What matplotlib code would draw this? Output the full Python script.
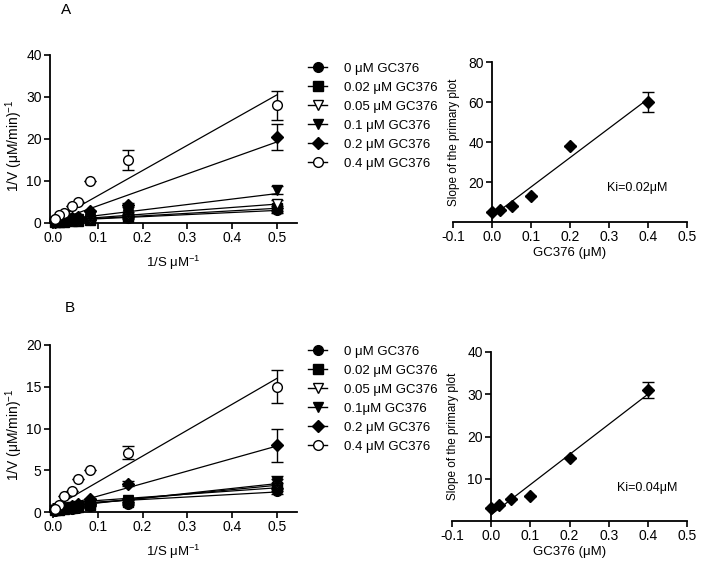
import numpy as np
import matplotlib
matplotlib.use('Agg')
import matplotlib.pyplot as plt

plt.rcParams['font.family'] = ['Liberation Sans', 'DejaVu Sans']
plt.rcParams['mathtext.default'] = 'regular'

# primary (Lineweaver-Burk) data
inv_s = [0.5, 0.1667, 0.0833, 0.0556, 0.0417, 0.025, 0.0125, 0.005]
conc = [0, 0.02, 0.05, 0.1, 0.2, 0.4]
labels_a = ['0 μM GC376', '0.02 μM GC376', '0.05 μM GC376', '0.1 μM GC376', '0.2 μM GC376', '0.4 μM GC376']
labels_b = ['0 μM GC376', '0.02 μM GC376', '0.05 μM GC376', '0.1μM GC376', '0.2 μM GC376', '0.4 μM GC376']

a_0 = [3.0, 1.2, 0.7, 0.5, 0.4, 0.3, 0.2, 0.15]
a_002 = [3.5, 1.4, 0.8, 0.55, 0.45, 0.35, 0.25, 0.2]
a_005 = [4.5, 1.8, 1.0, 0.7, 0.55, 0.4, 0.3, 0.2]
a_01 = [7.8, 2.3, 1.5, 0.9, 0.7, 0.5, 0.35, 0.25]
a_02 = [20.5, 4.3, 2.8, 1.5, 1.2, 0.8, 0.5, 0.3]
a_04 = [28, 15, 10, 5, 4, 2.5, 1.8, 1.0]
a_err_05 = [0.5, 0.6, 1.0, 1.0, 3.0, 3.5]
a_err_017 = [0.2, 0.2, 0.3, 0.4, 0.5, 2.3]
a_slope = [5, 6, 8, 13, 38, 60]
a_icpt = [0.5, 0.5, 0.5, 0.5, 0.3, 0.5]
a_slope_err = [0, 0, 0, 0, 0, 5]

b_0 = [2.5, 1.0, 0.7, 0.5, 0.4, 0.3, 0.2, 0.15]
b_002 = [3.0, 1.2, 0.8, 0.55, 0.45, 0.35, 0.25, 0.2]
b_005 = [3.4, 1.3, 0.9, 0.6, 0.5, 0.4, 0.3, 0.2]
b_01 = [3.6, 1.4, 1.0, 0.7, 0.55, 0.4, 0.3, 0.25]
b_02 = [8, 3.4, 1.6, 1.0, 0.7, 0.5, 0.35, 0.2]
b_04 = [15, 7.1, 5, 4, 2.5, 1.9, 0.8, 0.4]
b_err_05 = [0.4, 0.5, 0.6, 0.7, 2.0, 2.0]
b_err_017 = [0.2, 0.2, 0.2, 0.2, 0.3, 0.8]
b_slope = [3, 3.8, 5.2, 5.8, 15, 31]
b_icpt = [0.9, 1.0, 0.6, 0.5, 0.4, 0.5]
b_slope_err = [0, 0, 0, 0, 0, 2]

markers = [('o', 'k'), ('s', 'k'), ('v', 'w'), ('v', 'k'), ('D', 'k'), ('o', 'w')]
W, H = 711, 565


def px_axes(fig, l, t, r, b):
    return fig.add_axes([l / W, 1 - b / H, (r - l) / W, (b - t) / H])


def style(ax):
    for s in ['top', 'right']:
        ax.spines[s].set_visible(False)
    ax.spines['left'].set_linewidth(1.3)
    ax.spines['bottom'].set_linewidth(1.3)
    ax.tick_params(direction='out', length=4, width=1.2, labelsize=10, pad=2)


def primary(ax, series, errs05, errs017, slopes, icpts, ymax, ystep):
    xs = np.array([0, 0.5])
    for k in range(6):
        ax.plot(xs, icpts[k] + slopes[k] * xs, color='k', lw=0.9, zorder=2)
    for k in range(6):
        m, fc = markers[k]
        yerr = np.zeros(len(inv_s))
        yerr[0] = errs05[k]
        yerr[1] = errs017[k]
        ms = 6 if m == 'D' else 7
        ax.errorbar(inv_s, series[k], yerr=yerr, fmt=m, mfc=fc, mec='k', color='k',
                    ms=ms, mew=1, elinewidth=1, capsize=4, capthick=1,
                    clip_on=False, zorder=3, label=None)
    ax.set_xlim(-0.007, 0.545)
    ax.set_ylim(0, ymax)
    ax.set_xticks([0, 0.1, 0.2, 0.3, 0.4, 0.5])
    ax.set_xticklabels(['0.0', '0.1', '0.2', '0.3', '0.4', '0.5'])
    ax.set_yticks(np.arange(0, ymax + 1, ystep))
    ax.set_xlabel('1/S μM$^{-1}$', fontsize=9.5, labelpad=6)
    ax.set_ylabel('1/V (μM/min)$^{-1}$', fontsize=10)
    ax.yaxis.set_label_coords(-0.1, 0.46)
    style(ax)


def secondary(ax, slopes, errs, ymax, ystep, text, tx, ty):
    fit = np.polyfit(conc, slopes, 1)
    xs = np.array([0, 0.4])
    ax.plot(xs, np.polyval(fit, xs), color='k', lw=0.9, zorder=2)
    ax.errorbar(conc, slopes, yerr=errs, fmt='D', color='k', ms=6, elinewidth=1,
                capsize=4, capthick=1, clip_on=False, zorder=3)
    ax.set_xlim(-0.1, 0.5)
    ax.set_ylim(0, ymax)
    ax.spines['left'].set_position(('data', 0))
    ax.set_xticks([-0.1, 0, 0.1, 0.2, 0.3, 0.4, 0.5])
    ax.set_xticklabels(['-0.1', '0.0', '0.1', '0.2', '0.3', '0.4', '0.5'])
    ax.set_yticks(np.arange(ystep, ymax + 1, ystep))
    ax.set_xlabel('GC376 (μM)', fontsize=9.5, labelpad=2)
    ax.set_ylabel('Slope of the primary plot', fontsize=8.5)
    ax.yaxis.set_label_coords(0.03, 0.5)
    ax.text(tx, ty, text, fontsize=9, ha='center', va='center')
    style(ax)


def legend(fig, labels, top):
    handles = []
    for m, fc in markers:
        ms = 6 if m == 'D' else 7
        h, = plt.plot([], [], marker=m, mfc=fc, mec='k', color='k', ms=ms, lw=1)
        handles.append(h)
    fig.legend(handles, labels, loc='upper left', bbox_to_anchor=(303 / W, 1 - top / H),
               frameon=False, fontsize=9.5, handlelength=1.4, handletextpad=1.3,
               labelspacing=0.52, borderaxespad=0)


fig = plt.figure(figsize=(7.11, 5.65), dpi=100)

ax1 = px_axes(fig, 50, 55, 297, 223)
primary(ax1, [a_0, a_002, a_005, a_01, a_02, a_04], a_err_05, a_err_017, a_slope, a_icpt, 40, 10)
ax2 = px_axes(fig, 453, 62, 687, 222)
secondary(ax2, a_slope, a_slope_err, 80, 20, 'Ki=0.02μM', 0.372, 17)
legend(fig, labels_a, 57)

ax3 = px_axes(fig, 50, 345, 297, 512)
primary(ax3, [b_0, b_002, b_005, b_01, b_02, b_04], b_err_05, b_err_017, b_slope, b_icpt, 20, 5)
ax4 = px_axes(fig, 452, 352, 687, 521)
secondary(ax4, b_slope, b_slope_err, 40, 10, 'Ki=0.04μM', 0.398, 7.8)
legend(fig, labels_b, 340)

fig.text(66 / W, 1 - 10 / H, 'A', fontsize=11, ha='center', va='center')
fig.text(70 / W, 1 - 308 / H, 'B', fontsize=11, ha='center', va='center')

fig.savefig('out.png', dpi=100)
